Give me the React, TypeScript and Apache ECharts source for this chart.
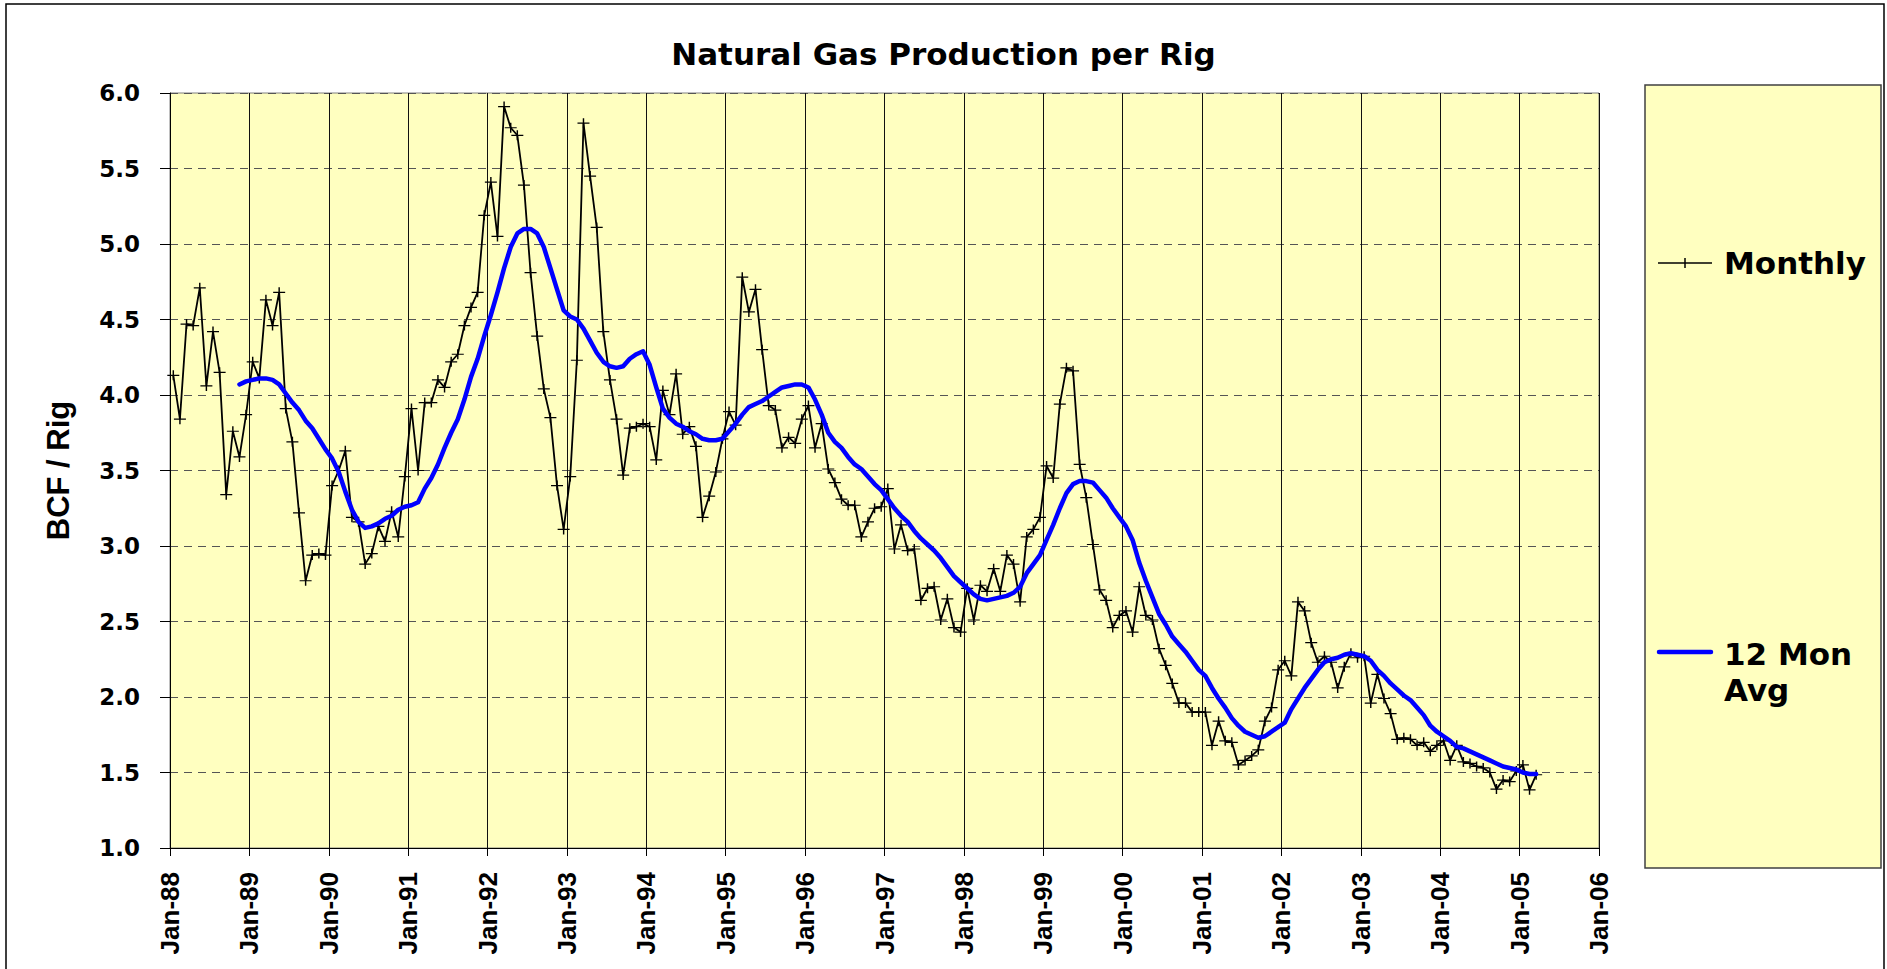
import React, { useEffect, useRef } from 'react';
import * as echarts from 'echarts';

const TITLE = 'Natural Gas Production per Rig';
const Y_NAME = 'BCF / Rig';
const MONTHLY_NAME = 'Monthly';
const AVG_NAME = '12 Mon Avg';

const X_TICK_LABELS = [
  'Jan-88', 'Jan-89', 'Jan-90', 'Jan-91', 'Jan-92', 'Jan-93', 'Jan-94', 'Jan-95', 'Jan-96', 'Jan-97',
  'Jan-98', 'Jan-99', 'Jan-00', 'Jan-01', 'Jan-02', 'Jan-03', 'Jan-04', 'Jan-05', 'Jan-06',
];
const MONTHS_PER_TICK = 12;
const Y_MIN = 1.0;
const Y_MAX = 6.0;
const Y_STEP = 0.5;

// Monthly values, one per month starting Jan-88
const MONTHLY = [
  4.13, 3.84, 4.47, 4.46, 4.71, 4.06, 4.42, 4.15, 3.34, 3.76, 3.59, 3.87,
  4.22, 4.11, 4.63, 4.46, 4.68, 3.91, 3.69, 3.22, 2.77, 2.94, 2.95, 2.94,
  3.40, 3.50, 3.63, 3.19, 3.16, 2.88, 2.95, 3.13, 3.03, 3.23, 3.06, 3.46,
  3.91, 3.50, 3.95, 3.95, 4.10, 4.05, 4.22, 4.27, 4.46, 4.58, 4.68, 5.19,
  5.41, 5.05, 5.91, 5.77, 5.72, 5.39, 4.81, 4.39, 4.04, 3.85, 3.40, 3.11,
  3.46, 4.23, 5.80, 5.45, 5.11, 4.42, 4.10, 3.84, 3.47, 3.78, 3.79, 3.81,
  3.79, 3.57, 4.03, 3.87, 4.14, 3.74, 3.79, 3.66, 3.19, 3.33, 3.49, 3.71,
  3.89, 3.80, 4.78, 4.55, 4.70, 4.30, 3.93, 3.90, 3.65, 3.72, 3.68, 3.84,
  3.93, 3.65, 3.81, 3.51, 3.42, 3.31, 3.27, 3.27, 3.06, 3.16, 3.25, 3.26,
  3.38, 2.98, 3.14, 2.97, 2.98, 2.64, 2.72, 2.73, 2.51, 2.65, 2.46, 2.43,
  2.72, 2.51, 2.74, 2.70, 2.85, 2.70, 2.94, 2.88, 2.63, 3.06, 3.11, 3.19,
  3.53, 3.45, 3.94, 4.18, 4.16, 3.54, 3.32, 3.01, 2.71, 2.64, 2.46, 2.54,
  2.57, 2.43, 2.73, 2.54, 2.51, 2.32, 2.21, 2.09, 1.96, 1.96, 1.90, 1.90,
  1.90, 1.68, 1.84, 1.71, 1.70, 1.55, 1.58, 1.61, 1.65, 1.84, 1.93, 2.18,
  2.24, 2.14, 2.63, 2.57, 2.36, 2.23, 2.27, 2.23, 2.06, 2.20, 2.29, 2.26,
  2.27, 1.96, 2.15, 1.99, 1.89, 1.72, 1.73, 1.72, 1.68, 1.70, 1.64, 1.68,
  1.71, 1.58, 1.68, 1.57, 1.56, 1.54, 1.53, 1.50, 1.39, 1.45, 1.44, 1.51,
  1.55, 1.385, 1.485,
];

// 12-month average, starting at month index 10 (Nov-88)
const AVG_FIRST_MONTH = 10;
const AVG = [
  4.07, 4.09,
  4.10, 4.11, 4.11, 4.10, 4.07, 4.01, 3.95, 3.90, 3.83, 3.78, 3.71, 3.64,
  3.58, 3.49, 3.36, 3.24, 3.16, 3.12, 3.13, 3.15, 3.18, 3.20, 3.24, 3.26,
  3.27, 3.29, 3.38, 3.45, 3.54, 3.65, 3.75, 3.84, 3.97, 4.12, 4.24, 4.39,
  4.53, 4.68, 4.84, 4.98, 5.07, 5.10, 5.10, 5.07, 4.98, 4.84, 4.70, 4.56,
  4.52, 4.50, 4.44, 4.36, 4.28, 4.22, 4.19, 4.18, 4.19, 4.24, 4.27, 4.29,
  4.20, 4.05, 3.91, 3.85, 3.81, 3.79, 3.76, 3.74, 3.71, 3.70, 3.70, 3.71,
  3.76, 3.81, 3.87, 3.92, 3.94, 3.96, 3.99, 4.02, 4.05, 4.06, 4.07, 4.07,
  4.05, 3.97, 3.87, 3.75, 3.69, 3.65, 3.59, 3.54, 3.51, 3.46, 3.41, 3.37,
  3.31, 3.25, 3.20, 3.16, 3.10, 3.05, 3.01, 2.97, 2.92, 2.86, 2.80, 2.76,
  2.72, 2.68, 2.65, 2.64, 2.65, 2.66, 2.67, 2.69, 2.73, 2.82, 2.88, 2.94,
  3.04, 3.14, 3.25, 3.35, 3.41, 3.43, 3.43, 3.42, 3.37, 3.32, 3.25, 3.19,
  3.13, 3.04, 2.89, 2.77, 2.66, 2.55, 2.48, 2.40, 2.35, 2.30, 2.24, 2.18,
  2.14, 2.06, 1.99, 1.93, 1.86, 1.81, 1.77, 1.75, 1.73, 1.74, 1.77, 1.80,
  1.83, 1.92, 1.99, 2.06, 2.12, 2.18, 2.23, 2.25, 2.26, 2.28, 2.29, 2.28,
  2.27, 2.24, 2.18, 2.14, 2.09, 2.05, 2.01, 1.98, 1.93, 1.88, 1.81, 1.77,
  1.74, 1.71, 1.67, 1.66, 1.64, 1.62, 1.60, 1.58, 1.56, 1.54, 1.53, 1.52,
  1.50, 1.49, 1.49,
];

const BG_YELLOW = '#FFFFC0';
const SPACED_FONT = '"DejaVu Sans", Verdana, sans-serif';
const ARIAL_FONT = '"Liberation Sans", Arial, sans-serif';

export default function App() {
  const ref = useRef<HTMLDivElement | null>(null);

  useEffect(() => {
    if (!ref.current) return;
    const chart = echarts.init(ref.current, null, { renderer: 'svg' });

    const monthlyData = MONTHLY.map((v, i) => [i + 0.5, v]);
    const avgData = AVG.map((v, i) => [AVG_FIRST_MONTH + i + 0.5, v]);
    const xMax = MONTHS_PER_TICK * (X_TICK_LABELS.length - 1);

    const option: any = {
      animation: false,
      backgroundColor: '#FFFFFF',
      title: {
        text: TITLE,
        left: 'center',
        top: 33,
        textStyle: {
          fontFamily: SPACED_FONT,
          fontWeight: 'bold',
          fontSize: 31,
          color: '#000',
        },
      },
      grid: {
        left: 170,
        right: 288,
        top: 93,
        bottom: 121,
        show: true,
        backgroundColor: BG_YELLOW,
        borderColor: '#808080',
        borderWidth: 1,
      },
      xAxis: {
        type: 'value',
        min: 0,
        max: xMax,
        interval: MONTHS_PER_TICK,
        axisLine: { show: true, lineStyle: { color: '#000', width: 1 } },
        axisTick: { show: true, inside: false, length: 8, lineStyle: { color: '#000' } },
        axisLabel: {
          rotate: 90,
          margin: 24,
          color: '#000',
          fontFamily: ARIAL_FONT,
          fontWeight: 'bold',
          fontSize: 26,
          formatter: (v: number) => X_TICK_LABELS[Math.round(v / MONTHS_PER_TICK)] ?? '',
        },
        splitLine: { show: true, lineStyle: { color: '#111', width: 1, type: 'solid' } },
      },
      yAxis: {
        type: 'value',
        min: Y_MIN,
        max: Y_MAX,
        interval: Y_STEP,
        name: Y_NAME,
        nameLocation: 'middle',
        nameGap: 96,
        nameRotate: 90,
        nameTextStyle: {
          fontFamily: ARIAL_FONT,
          fontWeight: 'bold',
          fontSize: 31,
          color: '#000',
        },
        axisLine: { show: true, lineStyle: { color: '#000', width: 1 } },
        axisTick: { show: true, inside: false, length: 10, lineStyle: { color: '#000' } },
        axisLabel: {
          margin: 30,
          color: '#000',
          fontFamily: SPACED_FONT,
          fontWeight: 'bold',
          fontSize: 23,
          formatter: (v: number) => v.toFixed(1),
        },
        splitLine: { show: true, lineStyle: { color: '#555', width: 1, type: [8, 6] } },
      },
      series: [
        {
          name: MONTHLY_NAME,
          type: 'line',
          data: monthlyData,
          showAllSymbol: true,
          symbol: 'path://M0,4.4 H10 V5.6 H0 Z M4.4,0 H5.6 V10 H4.4 Z',
          symbolSize: [12, 10],
          itemStyle: { color: '#000' },
          lineStyle: { color: '#000', width: 1.8 },
          emphasis: { disabled: true },
          z: 2,
        },
        {
          name: AVG_NAME,
          type: 'line',
          data: avgData,
          symbol: 'none',
          lineStyle: { color: '#0000FF', width: 4.5, cap: 'round', join: 'round' },
          itemStyle: { color: '#0000FF' },
          emphasis: { disabled: true },
          z: 3,
        },
      ],
      graphic: [
        {
          type: 'rect',
          silent: true,
          shape: { x: 6, y: 4, width: 1878, height: 1000 },
          style: { fill: 'none', stroke: '#000', lineWidth: 1.5 },
          z: 100,
        },
        {
          type: 'rect',
          silent: true,
          shape: { x: 1645, y: 85, width: 236, height: 783 },
          style: { fill: BG_YELLOW, stroke: '#404040', lineWidth: 1.5 },
        },
        {
          type: 'line',
          silent: true,
          shape: { x1: 1658, y1: 263, x2: 1712, y2: 263 },
          style: { stroke: '#000', lineWidth: 1.5 },
        },
        {
          type: 'line',
          silent: true,
          shape: { x1: 1685, y1: 258, x2: 1685, y2: 268 },
          style: { stroke: '#000', lineWidth: 1.5 },
        },
        {
          type: 'text',
          silent: true,
          style: {
            text: MONTHLY_NAME,
            x: 1724,
            y: 263,
            fill: '#000',
            font: `bold 31px ${SPACED_FONT}`,
            verticalAlign: 'middle',
            textVerticalAlign: 'middle',
          },
        },
        {
          type: 'line',
          silent: true,
          shape: { x1: 1659, y1: 652, x2: 1711, y2: 652 },
          style: { stroke: '#0000FF', lineWidth: 4.5, lineCap: 'round' },
        },
        {
          type: 'text',
          silent: true,
          style: {
            text: '12 Mon\nAvg',
            x: 1724,
            y: 672,
            fill: '#000',
            font: `bold 31px ${SPACED_FONT}`,
            lineHeight: 36,
            verticalAlign: 'middle',
            textVerticalAlign: 'middle',
          },
        },
      ],
    };

    chart.setOption(option);
    return () => {
      chart.dispose();
    };
  }, []);

  return (
    <div
      ref={ref}
      style={{ position: 'fixed', left: 0, top: 0, width: '1887px', height: '969px' }}
    />
  );
}
